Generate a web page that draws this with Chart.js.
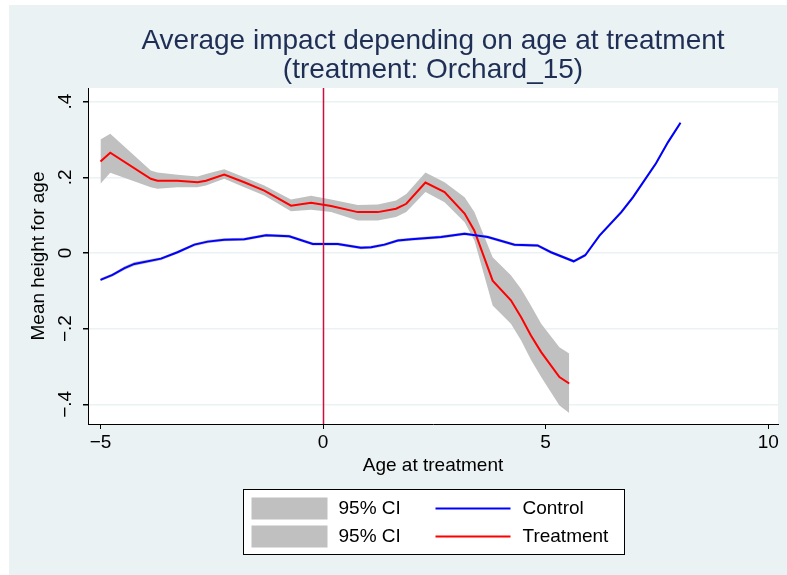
<!DOCTYPE html>
<html>
<head>
<meta charset="utf-8">
<title>Average impact depending on age at treatment</title>
<script src="https://cdn.jsdelivr.net/npm/chart.js@4.4.1/dist/chart.umd.min.js"></script>
<style>
  html, body { margin: 0; padding: 0; background: #fff; overflow: hidden; }
  #wrap { position: absolute; left: 9px; top: 5px; width: 778px; height: 570px; background: #eaf2f3; }
</style>
</head>
<body>
<div id="wrap"><canvas id="impactChart"></canvas></div>
<script>
/* ---------- DATA ---------- */
const titleLines = ['Average impact depending on age at treatment', '(treatment: Orchard_15)'];

const xTicks = [-5, 0, 5, 10];
const xTickLabels = ['\u22125', '0', '5', '10'];
const yTicks = [-0.4, -0.2, 0, 0.2, 0.4];
const yTickLabels = ['\u2212.4', '\u2212.2', '0', '.2', '.4'];

// Control: age at treatment, mean, 95% CI
const controlAge = [-5.0, -4.73, -4.46, -4.24, -3.64, -3.27, -2.89, -2.59, -2.22, -1.77, -1.28, -0.76, -0.23, 0.33, 0.85, 1.08,
                    1.38, 1.68, 1.98, 2.65, 3.18, 3.70, 4.30, 4.82, 5.12, 5.63, 5.89, 6.21, 6.70, 6.96, 7.48, 7.75, 8.03];
const controlMean = [-0.071, -0.058, -0.040, -0.029, -0.015, 0.002, 0.022, 0.030, 0.035, 0.036, 0.047, 0.044, 0.024, 0.024, 0.014, 0.015,
                     0.022, 0.033, 0.036, 0.042, 0.051, 0.042, 0.022, 0.020, 0.002, -0.022, -0.006, 0.046, 0.108, 0.147, 0.237, 0.293, 0.344];
const controlLo = [-0.075, -0.062, -0.045, -0.034, -0.019, -0.002, 0.018, 0.026, 0.031, 0.032, 0.043, 0.040, 0.020, 0.020, 0.010, 0.011,
                   0.018, 0.029, 0.032, 0.038, 0.047, 0.038, 0.018, 0.016, -0.002, -0.026, -0.010, 0.042, 0.103, 0.142, 0.232, 0.288, 0.339];
const controlHi = [-0.067, -0.054, -0.035, -0.024, -0.011, 0.006, 0.026, 0.034, 0.039, 0.040, 0.051, 0.048, 0.028, 0.028, 0.018, 0.019,
                   0.026, 0.037, 0.040, 0.046, 0.055, 0.046, 0.026, 0.024, 0.006, -0.018, -0.002, 0.050, 0.113, 0.152, 0.242, 0.298, 0.349];

// Treatment: age at treatment, mean, 95% CI
const treatAge = [-5.0, -4.78, -3.87, -3.72, -3.27, -2.82, -2.63, -2.22, -1.77, -1.32, -0.72, -0.27, 0.18, 0.78,
                  1.23, 1.64, 1.87, 2.30, 2.73, 3.18, 3.40, 3.81, 4.22, 4.45, 4.67, 4.90, 5.31, 5.53];
const treatMean = [0.242, 0.265, 0.196, 0.191, 0.191, 0.187, 0.191, 0.207, 0.187, 0.165, 0.125, 0.133, 0.124, 0.108,
                   0.108, 0.117, 0.130, 0.186, 0.161, 0.104, 0.059, -0.073, -0.125, -0.170, -0.218, -0.262, -0.328, -0.345];
const treatLo = [0.183, 0.212, 0.174, 0.170, 0.174, 0.174, 0.178, 0.196, 0.174, 0.152, 0.110, 0.114, 0.108, 0.086,
                 0.086, 0.095, 0.108, 0.161, 0.134, 0.081, 0.033, -0.139, -0.187, -0.231, -0.282, -0.328, -0.403, -0.423];
const treatHi = [0.300, 0.315, 0.218, 0.213, 0.207, 0.202, 0.209, 0.221, 0.200, 0.178, 0.141, 0.151, 0.141, 0.127,
                 0.128, 0.139, 0.156, 0.213, 0.187, 0.147, 0.108, -0.011, -0.059, -0.095, -0.139, -0.187, -0.249, -0.266];

const refLineAge = 0;   // vertical line at treatment age 0

/* ---------- STYLE ---------- */
const FONT = '"Liberation Sans", Arial, Helvetica, sans-serif';
const CI_GRAY = '#c0c0c0';
const BLUE = '#0000ff';
const RED = '#ff0000';

function toPoints(xs, ys) {
    return xs.map((x, i) => ({ x: x, y: ys[i] }));
}

function bandDs(xs, ys, extra) {
    return Object.assign({
        data: toPoints(xs, ys),
        borderWidth: 0,
        borderColor: 'rgba(0,0,0,0)',
        backgroundColor: CI_GRAY,
        pointRadius: 0,
        tension: 0,
        order: 2
    }, extra);
}

function lineDs(label, xs, ys, color) {
    return {
        label: label,
        data: toPoints(xs, ys),
        borderColor: color,
        backgroundColor: color,
        borderWidth: 2,
        pointRadius: 0,
        tension: 0,
        fill: false,
        order: 1
    };
}

const ctrlLoDs = bandDs(controlAge, controlLo, { fill: false });
const ctrlHiDs = bandDs(controlAge, controlHi, { label: '95% CI', fill: '-1' });
const trtLoDs = bandDs(treatAge, treatLo, { fill: false });
const trtHiDs = bandDs(treatAge, treatHi, { label: '95% CI', fill: '-1' });
const ctrlLine = lineDs('Control', controlAge, controlMean, BLUE);
const trtLine = lineDs('Treatment', treatAge, treatMean, RED);

// legend rows: [band, line]
const legendRows = [[ctrlHiDs, ctrlLine], [trtHiDs, trtLine]];

/* ---------- PLUGINS ---------- */
// white plot region
const plotBg = {
    id: 'plotBg',
    beforeDraw(chart) {
        const a = chart.chartArea, ctx = chart.ctx;
        ctx.save();
        ctx.fillStyle = '#ffffff';
        ctx.fillRect(a.left, a.top, a.right - a.left, a.bottom - a.top);
        ctx.restore();
    }
};

// vertical line at age 0
const refLine = {
    id: 'refLine',
    afterDatasetsDraw(chart) {
        const a = chart.chartArea, ctx = chart.ctx;
        const x = Math.round(chart.scales.x.getPixelForValue(refLineAge)) + 0.5;
        ctx.save();
        ctx.strokeStyle = '#cc1040';
        ctx.lineWidth = 1.5;
        ctx.beginPath();
        ctx.moveTo(x, a.top);
        ctx.lineTo(x, a.bottom);
        ctx.stroke();
        ctx.restore();
    }
};

// two-line title centred over the plot region
const plotTitle = {
    id: 'plotTitle',
    afterDraw(chart) {
        const a = chart.chartArea, ctx = chart.ctx;
        const cx = (a.left + a.right) / 2;
        ctx.save();
        ctx.fillStyle = '#1f2e55';
        ctx.font = '28px ' + FONT;
        ctx.textAlign = 'center';
        ctx.textBaseline = 'alphabetic';
        ctx.fillText(titleLines[0], cx, 44);
        ctx.fillText(titleLines[1], cx, 73);
        ctx.restore();
    }
};

// boxed legend under the axis, two rows
const boxLegend = {
    id: 'boxLegend',
    afterDraw(chart) {
        const a = chart.chartArea, ctx = chart.ctx;
        const w = 381, h = 65;
        const left = Math.round((a.left + a.right) / 2 - w / 2) + 0.5;
        const top = 484.5;
        ctx.save();
        ctx.fillStyle = '#ffffff';
        ctx.fillRect(left, top, w, h);
        ctx.strokeStyle = '#000000';
        ctx.lineWidth = 1;
        ctx.strokeRect(left, top, w, h);

        ctx.font = '19px ' + FONT;
        ctx.textBaseline = 'middle';
        ctx.textAlign = 'left';
        legendRows.forEach((row, i) => {
            const band = row[0], line = row[1];
            const cy = top + 19 + i * 28;
            ctx.fillStyle = band.backgroundColor;
            ctx.fillRect(left + 8, cy - 11, 76, 22);
            ctx.fillStyle = '#000000';
            ctx.fillText(band.label, left + 95, cy);

            ctx.strokeStyle = line.borderColor;
            ctx.lineWidth = 2;
            ctx.beginPath();
            ctx.moveTo(left + 192, cy);
            ctx.lineTo(left + 267, cy);
            ctx.stroke();
            ctx.fillText(line.label, left + 279, cy);
        });
        ctx.restore();
    }
};

/* ---------- CHART ---------- */
document.addEventListener('DOMContentLoaded', () => {
    const canvas = document.getElementById('impactChart');
    if (!canvas) return;

    new Chart(canvas.getContext('2d'), {
        type: 'line',
        data: {
            datasets: [ctrlLine, trtLine, ctrlLoDs, ctrlHiDs, trtLoDs, trtHiDs]
        },
        options: {
            responsive: true,
            maintainAspectRatio: false,
            animation: false,
            layout: { padding: { top: 83, right: 9, bottom: 91, left: 0 } },
            plugins: {
                legend: { display: false },
                title: { display: false },
                tooltip: { enabled: false }
            },
            scales: {
                x: {
                    type: 'linear',
                    min: -5.28,
                    max: 10.22,
                    afterBuildTicks: s => { s.ticks = xTicks.map(v => ({ value: v })); },
                    afterFit: s => { s.height = 60; },
                    ticks: {
                        callback: (v, i) => xTickLabels[i],
                        color: '#000',
                        font: { family: FONT, size: 19 },
                        padding: 2,
                        maxRotation: 0,
                        autoSkip: false
                    },
                    grid: { drawOnChartArea: false, tickLength: 5, tickColor: '#000' },
                    border: { display: true, color: '#000', width: 1 },
                    title: {
                        display: true,
                        text: 'Age at treatment',
                        color: '#000',
                        font: { family: FONT, size: 19 },
                        padding: { top: 0, bottom: 7 }
                    }
                },
                y: {
                    type: 'linear',
                    min: -0.452,
                    max: 0.436,
                    afterBuildTicks: s => { s.ticks = yTicks.map(v => ({ value: v })); },
                    afterFit: s => { s.width = 79; },
                    ticks: {
                        callback: (v, i) => yTickLabels[i],
                        color: '#000',
                        font: { family: FONT, size: 19 },
                        minRotation: 90,
                        maxRotation: 90,
                        crossAlign: 'center',
                        padding: 4,
                        autoSkip: false
                    },
                    grid: { color: '#eaf2f3', lineWidth: 1.5, tickLength: 5, tickColor: '#000' },
                    border: { display: true, color: '#000', width: 1 },
                    title: {
                        display: true,
                        text: 'Mean height for age',
                        color: '#000',
                        font: { family: FONT, size: 19 },
                        padding: { top: 18, bottom: 0 }
                    }
                }
            }
        },
        plugins: [plotBg, refLine, plotTitle, boxLegend]
    });
});
</script>
</body>
</html>
